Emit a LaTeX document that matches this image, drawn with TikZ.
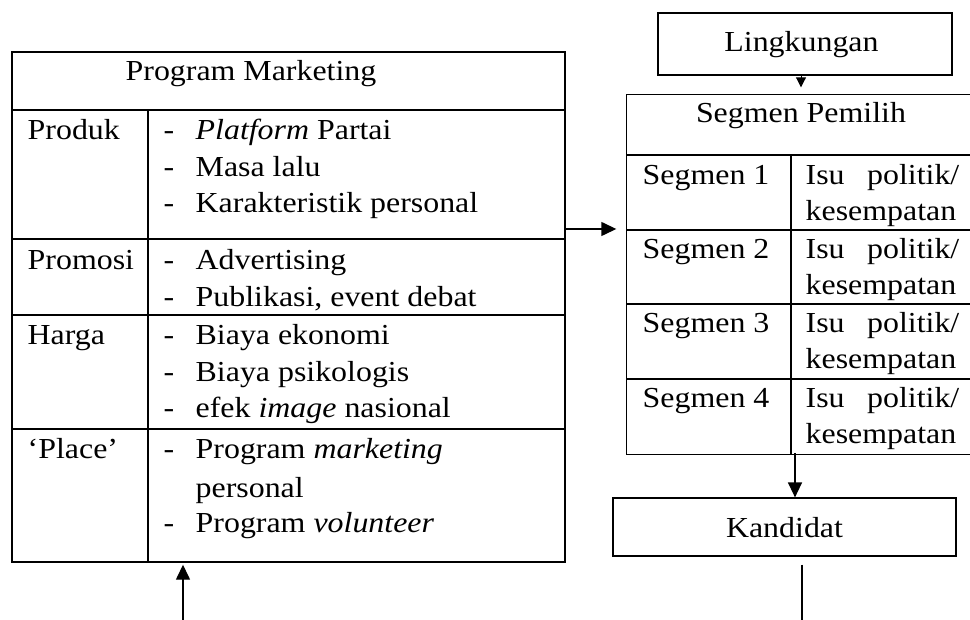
\documentclass[tikz,border=0pt]{standalone}
\usepackage{fontspec}
\setmainfont{Liberation Serif}[FakeStretch=1.1]
\usetikzlibrary{arrows.meta}
\begin{document}
\begin{tikzpicture}[x=1pt,y=-1pt,line width=1.4pt,
  txt/.style={anchor=base west,inner sep=0pt,font=\fontsize{29}{34}\selectfont},
  ctxt/.style={anchor=base,inner sep=0pt,font=\fontsize{29}{34}\selectfont},
  rtxt/.style={anchor=base east,inner sep=0pt,font=\fontsize{29}{34}\selectfont},
  frame/.style={draw,rectangle,inner sep=0pt},
  boxnode/.style={draw,rectangle,inner sep=0pt,line width=1.2pt,font=\fontsize{29}{34}\selectfont},
  arr/.style={-{Triangle[length=15pt,width=14pt]}},
  smallarr/.style={-{Triangle[length=10pt,width=10pt]}}]
\useasboundingbox (0,0) rectangle (970,620);
% ---- left table: Program Marketing
\node[frame,minimum width=553pt,minimum height=510pt] (pm) at (288.5,307) {};
\draw (12,110) -- (565,110);
\draw (12,239) -- (565,239);
\draw (12,315) -- (565,315);
\draw (12,429) -- (565,429);
\draw (148,110) -- (148,562);
\node[ctxt] (pmt) at (251,81) {Program Marketing};
\node[txt] (produk) at (27,140) {Produk};
\node[txt] (promosi) at (27,270) {Promosi};
\node[txt] (harga) at (27,345) {Harga};
\node[txt] (place) at (27,459) {‘Place’};
\foreach \y/\t [count=\i] in {140/{\textit{Platform} Partai},177/{Masa lalu},213/{Karakteristik personal},
  270/{Advertising},307/{Publikasi, event debat},
  345/{Biaya ekonomi},382/{Biaya psikologis},418/{efek \textit{image} nasional},
  459/{Program \textit{marketing}},532/{Program \textit{volunteer}}}{
  \node[txt] (d\i) at (163,\y) {-};
  \node[txt] (l\i) at (195,\y) {\t};
}
\node[txt] (lpers) at (195,497) {personal};
% ---- Lingkungan
\node[boxnode,minimum width=294pt,minimum height=62pt] (ling) at (805,44) {};
\node[ctxt] (lingt) at (801.5,52) {Lingkungan};
% ---- Segmen table: open on the right, where it runs past the picture edge
\node[rectangle,inner sep=0pt,minimum width=343pt,minimum height=359pt] (seg) at (798.5,274.5) {};
\draw (seg.north east) -- (seg.north west) -- (seg.south west) -- (seg.south east);
\draw (627,155) -- (970,155);
\draw (627,230) -- (970,230);
\draw (627,304) -- (970,304);
\draw (627,379) -- (970,379);
\draw (791,155) -- (791,454);
\node[ctxt] (segt) at (801,123) {Segmen Pemilih};
\foreach \y/\k in {185/1,259/2,333/3,408/4}{
  \node[txt] (s\k) at (642,\y) {Segmen \k};
  \node[txt] (isu\k) at (805,\y) {Isu};
  \node[rtxt] (pol\k) at (960,\y) {politik/};
  \node[txt] (kes\k) at (805,\y+36) {kesempatan};
}
% ---- Kandidat
\node[boxnode,minimum width=343pt,minimum height=58pt] (kand) at (784.5,527) {};
\node[ctxt] (kandt) at (784.5,537) {Kandidat};
% ---- connectors
\coordinate (inL) at (183,620);
\draw[arr,shorten >=2pt] (inL) -- (inL |- pm.south);
\coordinate (a1) at (565,229);
\draw[arr,shorten >=10pt] (a1) -- (a1 -| seg.west);
\coordinate (l1) at (801,75);
\draw[smallarr,line width=1pt,shorten >=7pt] (l1) -- (l1 |- seg.north);
\coordinate (dd) at (795,453);
\draw[arr] (dd) -- (dd |- kand.north);
\coordinate (outK) at (802,620);
\draw[line width=1.2pt,shorten <=8pt] (outK |- kand.south) -- (outK);
\end{tikzpicture}
\end{document}
